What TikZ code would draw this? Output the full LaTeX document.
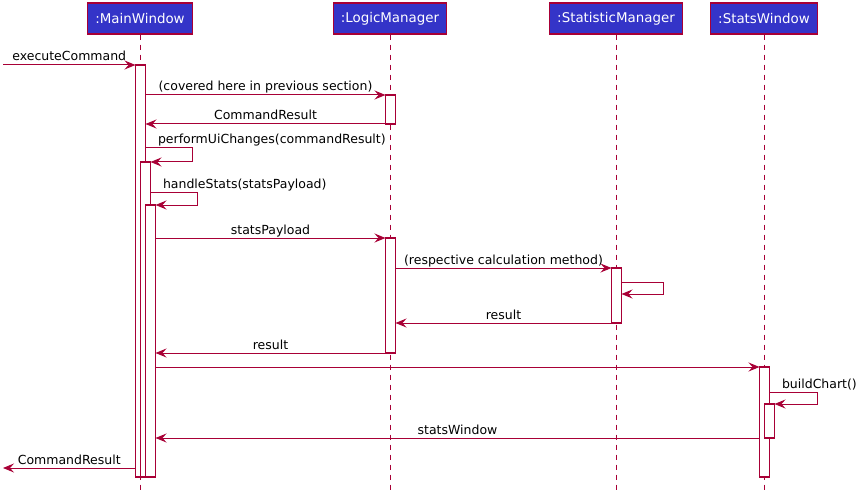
\documentclass[tikz,border=0pt]{standalone}
\usepackage{fontspec}
\setmainfont{DejaVu Sans}
\usepackage{xcolor}
\usetikzlibrary{positioning,arrows.meta}
\definecolor{umlred}{RGB}{168,0,54}
\definecolor{umlblue}{RGB}{52,52,200}

\begin{document}
\begin{tikzpicture}[x=1pt, y=-1pt,
  head/.style = {rectangle, draw=umlred, line width=1.2pt, fill=umlblue, text=white, minimum height=31pt, inner xsep=7.5pt, inner ysep=0pt, font=\fontsize{13.4}{16}\selectfont},
  life/.style = {draw=umlred, line width=1pt, dash pattern=on 5pt off 5pt},
  actbar/.style = {rectangle, draw=umlred, fill=white, line width=1.2pt, minimum width=10pt, inner sep=0pt, outer sep=0pt, anchor=north},
  msg/.style = {draw=umlred, line width=1pt, -{Stealth[length=11pt,width=9pt,inset=4pt]}},
  lbl/.style = {anchor=base, inner sep=0pt, yshift=4pt, font=\fontsize{12.5}{15}\selectfont},
  selflbl/.style = {lbl, anchor=base west, xshift=12pt}]
  \useasboundingbox (0,0) rectangle (866,497);

  \node[head] (mw) at (140,18.5) {:MainWindow};
  \node[head] (lm) at (390,18.5) {:LogicManager};
  \node[head] (sm) at (616,18.5) {:StatisticManager};
  \node[head] (sw) at (764,18.5) {:StatsWindow};

  \coordinate (bottom) at (0,490);
  \draw[life] (mw.south) to (mw.south |- bottom);
  \draw[life] (lm.south) to (lm.south |- bottom);
  \draw[life] (sm.south) to (sm.south |- bottom);
  \draw[life] (sw.south) to (sw.south |- bottom);

  \node[actbar, minimum height=412pt] (mw1) at (140.5,65) {};
  \node[actbar, minimum height=315pt] (mw2) at (145.5,162) {};
  \node[actbar, minimum height=272pt] (mw3) at (150.5,205) {};
  \node[actbar, minimum height=29pt] (lm1) at (390.5,95) {};
  \node[actbar, minimum height=115pt] (lm2) at (390.5,238) {};
  \node[actbar, minimum height=55pt] (sm1) at (616.5,268) {};
  \node[actbar, minimum height=110pt] (sw1) at (764.5,367) {};
  \node[actbar, minimum height=34pt] (sw2) at (769.5,404) {};

  \coordinate (entry) at (3,65);
  \draw[msg] (entry) to node[lbl] {executeCommand} (mw1.north west);
  \draw[msg] (mw1.east |- lm1.north) to node[lbl] {(covered here in previous section)} (lm1.north west);
  \draw[msg] (lm1.south west) to node[lbl] {CommandResult} (lm1.south west -| mw1.east);

  \coordinate (ui) at (192,148);
  \draw[msg] (mw1.east |- ui) node[selflbl] {performUiChanges(commandResult)} -- (ui) |- (mw2.north east);
  \coordinate (hs) at (197,192);
  \draw[msg] (mw2.east |- hs) node[selflbl] {handleStats(statsPayload)} -- (hs) |- (mw3.north east);

  \draw[msg] (mw3.east |- lm2.north) to node[lbl] {statsPayload} (lm2.north west);
  \draw[msg] (lm2.east |- sm1.north) to node[lbl] {(respective calculation method)} (sm1.north west);

  \coordinate (calc) at (663,282);
  \coordinate (calcback) at (663,294);
  \draw[msg] (sm1.east |- calc) -- (calc) -- (calcback) -- (sm1.east |- calcback);

  \draw[msg] (sm1.south west) to node[lbl] {result} (sm1.south west -| lm2.east);
  \draw[msg] (lm2.south west) to node[lbl] {result} (lm2.south west -| mw3.east);
  \draw[msg] (mw3.east |- sw1.north) to (sw1.north west);

  \coordinate (chart) at (817,392);
  \draw[msg] (sw1.east |- chart) node[selflbl] {buildChart()} -- (chart) |- (sw2.north east);
  \draw[msg] (sw1.west |- sw2.south) to node[lbl] {statsWindow} (sw2.south -| mw3.east);

  \coordinate (exit) at (3,468);
  \draw[msg] (mw1.west |- exit) to node[lbl] {CommandResult} (exit);
\end{tikzpicture}
\end{document}
